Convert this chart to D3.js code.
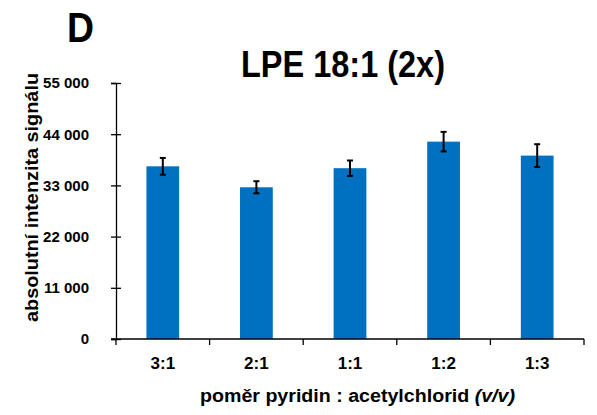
<!DOCTYPE html>
<html>
<head>
<meta charset="utf-8">
<script src="https://cdn.jsdelivr.net/npm/d3@7"></script>
<style>
  body { margin: 0; background: #fff; }
  svg text { font-family: "Liberation Sans", Arial, sans-serif; font-weight: bold; fill: #000; }
</style>
</head>
<body>
<svg width="597" height="415"></svg>
<script>
const categories = ["3:1", "2:1", "1:1", "1:2", "1:3"];
const values = [37100, 32600, 36700, 42400, 39400];
const errors = [1800, 1300, 1650, 2100, 2450];
const yTicks = [0, 11000, 22000, 33000, 44000, 55000];

const svg = d3.select("svg");
const margin = {left: 116, right: 13, top: 83, bottom: 76};
const width = +svg.attr("width"), height = +svg.attr("height");

const x = d3.scaleBand().domain(categories)
    .range([margin.left, width - margin.right]).paddingInner(0.65).paddingOuter(0.325);
const xTick = d3.scaleBand().domain(categories).range([margin.left, width - margin.right]);
const y = d3.scaleLinear().domain([0, 55000]).range([height - margin.bottom, margin.top]);

const fmt = v => d3.format(",")(v).replace(/,/g, " ");

// bars
svg.append("g").selectAll("rect")
    .data(values)
    .enter().append("rect")
    .attr("x", (d, i) => x(categories[i]))
    .attr("y", d => y(d))
    .attr("width", x.bandwidth())
    .attr("height", d => y(0) - y(d))
    .attr("fill", "#0070c0");

// error bars
const eb = svg.append("g").attr("stroke", "#000").attr("stroke-width", 2);
values.forEach((v, i) => {
  const cx = x(categories[i]) + x.bandwidth() / 2;
  eb.append("line").attr("x1", cx).attr("x2", cx).attr("y1", y(v - errors[i])).attr("y2", y(v + errors[i]));
  eb.append("line").attr("x1", cx - 3).attr("x2", cx + 3).attr("y1", y(v - errors[i])).attr("y2", y(v - errors[i]));
  eb.append("line").attr("x1", cx - 3).attr("x2", cx + 3).attr("y1", y(v + errors[i])).attr("y2", y(v + errors[i]));
});

// y axis
const yAxis = svg.append("g").attr("transform", `translate(${margin.left},0)`)
    .call(d3.axisLeft(y).tickValues(yTicks).tickFormat(fmt).tickSize(5).tickPadding(22));
yAxis.selectAll(".tick line").attr("x2", 5).attr("x1", -5);
yAxis.selectAll("line, path").attr("stroke", "#000").attr("stroke-width", 1.3);
yAxis.selectAll("text").attr("font-size", 15);

// x axis
const xAxis = svg.append("g").attr("transform", `translate(0,${y(0)})`)
    .call(d3.axisBottom(xTick).tickSize(0).tickPadding(18));
xAxis.select(".domain").attr("d", `M${margin.left - 5},0H${width - margin.right}`);
xAxis.selectAll(".tick text").attr("font-size", 17);
xAxis.selectAll("line, path").attr("stroke", "#000").attr("stroke-width", 1.3);
const xBounds = [...categories.map(c => xTick(c)), width - margin.right];
xAxis.selectAll(".sep").data(xBounds).enter().append("line")
    .attr("x1", d => d).attr("x2", d => d).attr("y1", 0).attr("y2", 6)
    .attr("stroke", "#000").attr("stroke-width", 1.3);

// titles
svg.append("text").attr("x", 67).attr("y", 42).attr("font-size", 42)
    .attr("textLength", 27).attr("lengthAdjust", "spacingAndGlyphs").text("D");
svg.append("text").attr("x", 241).attr("y", 77)
    .attr("font-size", 36).attr("textLength", 204).attr("lengthAdjust", "spacingAndGlyphs")
    .text("LPE 18:1 (2x)");
svg.append("text").attr("transform", "translate(38,322) rotate(-90)")
    .attr("font-size", 17.5).attr("textLength", 249).attr("lengthAdjust", "spacingAndGlyphs")
    .text("absolutní intenzita signálu");
const xt = svg.append("text").attr("x", 200).attr("y", 402).attr("font-size", 18)
    .attr("textLength", 315).attr("lengthAdjust", "spacingAndGlyphs");
xt.append("tspan").text("poměr pyridin : acetylchlorid ");
xt.append("tspan").attr("font-style", "italic").text("(v/v)");
</script>
</body>
</html>
